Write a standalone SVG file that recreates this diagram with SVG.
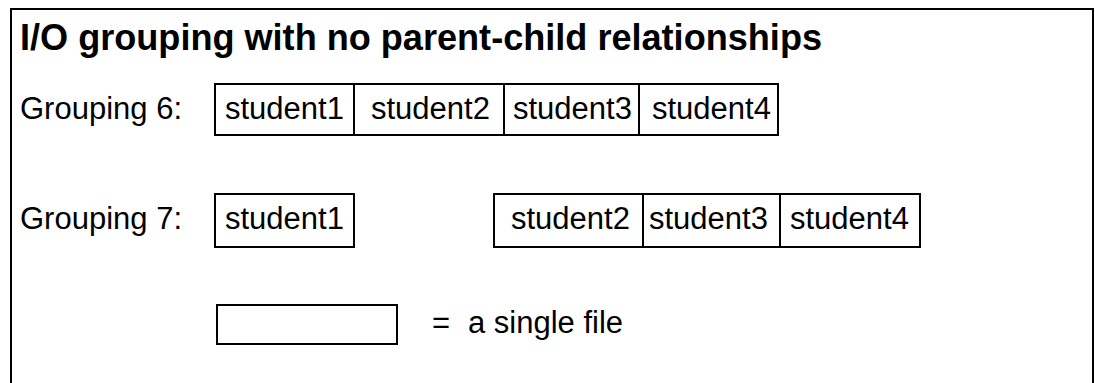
<svg xmlns="http://www.w3.org/2000/svg" width="1095" height="383" viewBox="0 0 1095 383">
<style>
.box{fill:#fff;stroke:#000;stroke-width:2}
.div{stroke:#000;stroke-width:2}
.t{font-family:"Liberation Sans",Arial,sans-serif;font-size:31px;fill:#000}
.title{font-family:"Liberation Sans",Arial,sans-serif;font-size:36px;font-weight:bold;fill:#000}
</style>
<rect width="1095" height="383" fill="#fff"/>
<path d="M11,383 V9 H1093 V383" fill="none" stroke="#000" stroke-width="2"/>
<text class="title" x="20" y="50" textLength="802" lengthAdjust="spacingAndGlyphs">I/O grouping with no parent-child relationships</text>
<g id="grouping6">
<text class="t" x="20" y="119">Grouping 6:</text>
<rect class="box" x="215" y="84" width="563" height="51"/>
<line class="div" x1="354" y1="84" x2="354" y2="135"/>
<line class="div" x1="504" y1="84" x2="504" y2="135"/>
<line class="div" x1="639" y1="84" x2="639" y2="135"/>
<text class="t" x="225" y="119">student1</text>
<text class="t" x="371" y="119">student2</text>
<text class="t" x="513" y="119">student3</text>
<text class="t" x="652" y="119">student4</text>
</g>
<g id="grouping7">
<text class="t" x="20" y="229">Grouping 7:</text>
<rect class="box" x="215" y="194" width="139" height="53"/>
<text class="t" x="225" y="229">student1</text>
<rect class="box" x="494" y="194" width="426" height="53"/>
<line class="div" x1="643" y1="194" x2="643" y2="247"/>
<line class="div" x1="780" y1="194" x2="780" y2="247"/>
<text class="t" x="511" y="229">student2</text>
<text class="t" x="649" y="229">student3</text>
<text class="t" x="790" y="229">student4</text>
</g>
<g id="legend">
<rect class="box" x="217" y="305" width="180" height="39"/>
<text class="t" x="432" y="333">=</text>
<text class="t" x="468" y="333">a single file</text>
</g>
</svg>
